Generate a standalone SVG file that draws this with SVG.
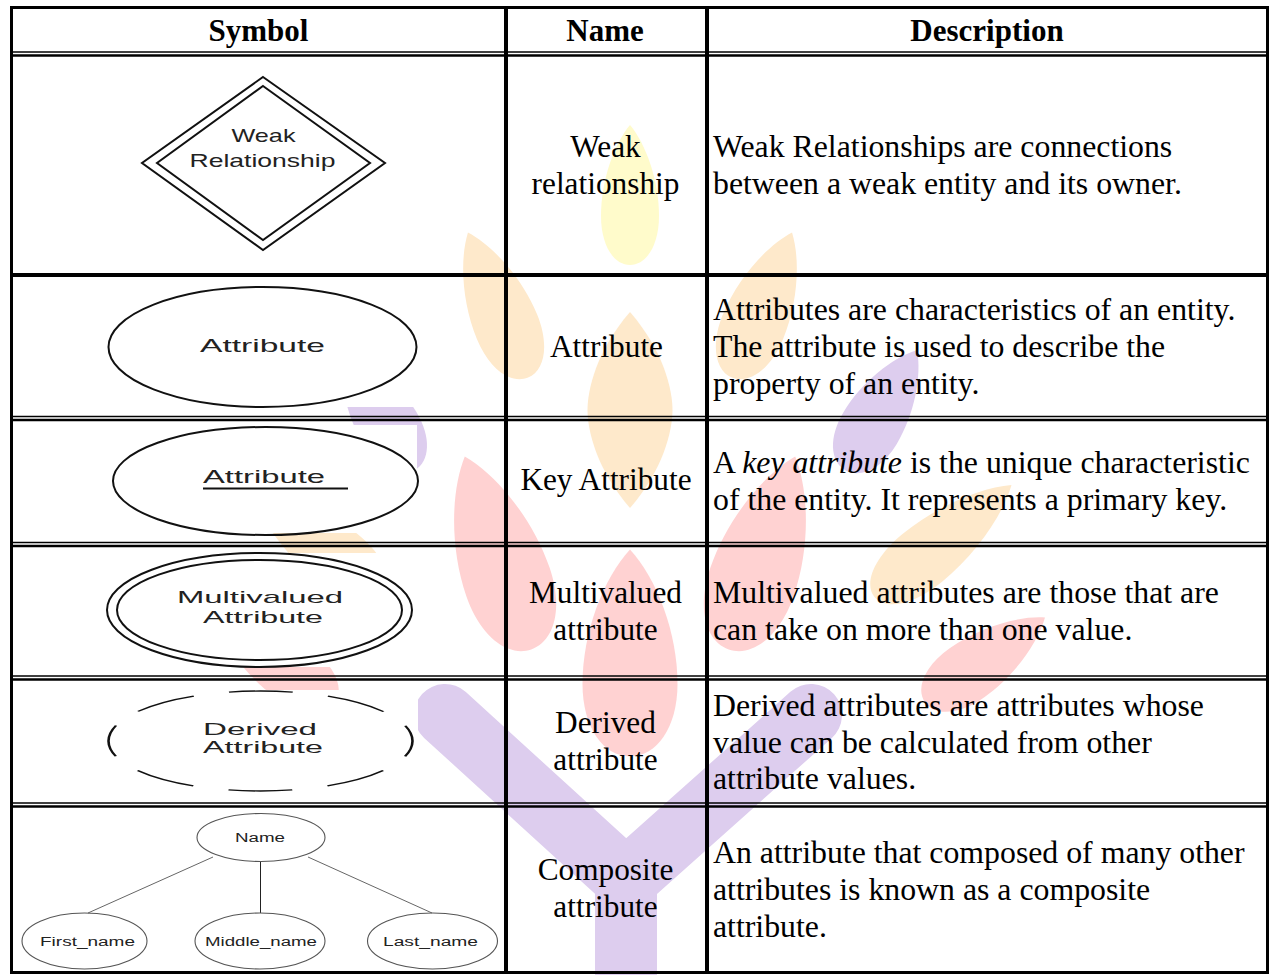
<svg xmlns="http://www.w3.org/2000/svg" width="1270" height="975" viewBox="0 0 1270 975">
  <style>
    .grid { stroke: #000; fill: none; }
    .head { font-family: "Liberation Serif", "Times New Roman", serif; font-weight: bold; font-size: 31px; fill: #000; text-anchor: middle; }
    .name { font-family: "Liberation Serif", "Times New Roman", serif; font-size: 31.3px; fill: #000; text-anchor: middle; }
    .desc { font-family: "Liberation Serif", "Times New Roman", serif; font-size: 31.8px; fill: #000; }
    .sym { font-family: "Liberation Sans", Arial, sans-serif; fill: #222; text-anchor: middle; }
    .shape { fill: none; stroke: #111; stroke-width: 2; }
    .thin { fill: none; stroke: #555; stroke-width: 1.1; }
    .link { stroke: #666; stroke-width: 1; fill: none; }
    .orange { fill: #FEE9CB; }
    .yellow { fill: #FFFBCB; }
    .red { fill: #FFD2D2; }
    .purple { fill: #DDCDEE; }
    .pane { fill: #fff; }
  </style>
  <defs>
    <path id="leaf" d="M0,-100 C28,-72 50,-20 50,30 C50,72 28,100 0,100 C-28,100 -50,72 -50,30 C-50,-20 -28,-72 0,-100 Z"/>
    <path id="almond" d="M0,-100 C40,-60 50,-20 50,0 C50,20 40,60 0,100 C-40,60 -50,20 -50,0 C-50,-20 -40,-60 0,-100 Z"/>
  </defs>

  <rect width="1270" height="975" fill="#fff"/>

  <!-- background tree emblem -->
  <g id="emblem">
    <use href="#leaf" class="yellow" transform="translate(630,195) scale(0.58,0.7)"/>
    <use href="#almond" class="orange" transform="translate(630,410) scale(0.85,0.98)"/>
    <use href="#leaf" class="red" transform="translate(630,653) scale(0.95,1.035)"/>
    <use href="#leaf" class="orange" transform="translate(498,305) rotate(-22.5) scale(0.65,0.785)"/>
    <use href="#leaf" class="orange" transform="translate(762,305) rotate(22.5) scale(0.65,0.785)"/>
    <use href="#leaf" class="red" transform="translate(498,553) rotate(-19) scale(0.88,1.02)"/>
    <use href="#leaf" class="red" transform="translate(762,553) rotate(19) scale(0.88,1.02)"/>
    <use href="#leaf" class="purple" transform="translate(881,410) rotate(31) scale(0.62,0.7)"/>
    <use href="#leaf" class="purple" transform="translate(379,410) rotate(-31) scale(0.62,0.7)"/>
    <use href="#leaf" class="orange" transform="translate(943,541) rotate(50.7) scale(0.62,0.885)"/>
    <use href="#leaf" class="orange" transform="translate(317,541) rotate(-50.7) scale(0.62,0.885)"/>
    <use href="#leaf" class="red" transform="translate(985,660) rotate(54.7) scale(0.6,0.735)"/>
    <use href="#leaf" class="red" transform="translate(275,660) rotate(-54.7) scale(0.6,0.735)"/>
    <path d="M445,715 L626,880 L811,715 M626,880 V990" fill="none" stroke="#DDCDEE" stroke-width="62" stroke-linecap="round" stroke-linejoin="round"/>
  </g>

  <!-- opaque backgrounds of the symbol pictures -->
  <g id="symbol-panes">
    <rect class="pane" x="100" y="280" width="330" height="127"/>
    <rect class="pane" x="105" y="425" width="312" height="108"/>
    <rect class="pane" x="100" y="553" width="320" height="114"/>
    <rect class="pane" x="100" y="690" width="318" height="107"/>
  </g>

  <!-- table rules -->
  <g id="table-grid" class="grid">
    <rect x="11.5" y="7.5" width="1256" height="965" stroke-width="3"/>
    <line x1="506" y1="6" x2="506" y2="974" stroke-width="4"/>
    <line x1="707" y1="6" x2="707" y2="974" stroke-width="4"/>
    <line x1="10" y1="52" x2="1269" y2="52" stroke-width="1.5"/>
    <line x1="10" y1="55.5" x2="1269" y2="55.5" stroke-width="2.5"/>
    <line x1="10" y1="275" x2="1269" y2="275" stroke-width="4"/>
    <line x1="10" y1="416.5" x2="1269" y2="416.5" stroke-width="1.5"/>
    <line x1="10" y1="420" x2="1269" y2="420" stroke-width="2.5"/>
    <line x1="10" y1="542.5" x2="1269" y2="542.5" stroke-width="1.5"/>
    <line x1="10" y1="546" x2="1269" y2="546" stroke-width="2.5"/>
    <line x1="10" y1="676" x2="1269" y2="676" stroke-width="1.5"/>
    <line x1="10" y1="679.5" x2="1269" y2="679.5" stroke-width="2.5"/>
    <line x1="10" y1="803" x2="1269" y2="803" stroke-width="1.5"/>
    <line x1="10" y1="806.5" x2="1269" y2="806.5" stroke-width="2.5"/>
  </g>

  <!-- header row -->
  <g id="header">
    <text class="head" x="258.5" y="41">Symbol</text>
    <text class="head" x="605" y="41">Name</text>
    <text class="head" x="987" y="41">Description</text>
  </g>

  <!-- row 1: weak relationship -->
  <g id="weak-relationship">
    <polygon class="shape" points="263,77 385,163 263,250 142,163"/>
    <polygon class="shape" points="263,86 370,163 263,240 157,163"/>
    <text class="sym" x="263.5" y="142" font-size="19" textLength="64" lengthAdjust="spacingAndGlyphs">Weak</text>
    <text class="sym" x="262.5" y="167" font-size="19" textLength="146" lengthAdjust="spacingAndGlyphs">Relationship</text>
    <text class="name" x="605.5" y="157">Weak</text>
    <text class="name" x="605.5" y="194">relationship</text>
    <text class="desc" x="713" y="157">Weak Relationships are connections</text>
    <text class="desc" x="713" y="194">between a weak entity and its owner.</text>
  </g>

  <!-- row 2: attribute -->
  <g id="attribute">
    <ellipse class="shape" cx="262.5" cy="347" rx="154" ry="60"/>
    <text class="sym" x="262.5" y="352" font-size="19" textLength="125" lengthAdjust="spacingAndGlyphs">Attribute</text>
    <text class="name" x="606.5" y="357">Attribute</text>
    <text class="desc" x="713" y="320">Attributes are characteristics of an entity.</text>
    <text class="desc" x="713" y="357">The attribute is used to describe the</text>
    <text class="desc" x="713" y="394">property of an entity.</text>
  </g>

  <!-- row 3: key attribute -->
  <g id="key-attribute">
    <ellipse class="shape" cx="265.5" cy="481" rx="152.5" ry="54"/>
    <text class="sym" x="264" y="483" font-size="19" textLength="122" lengthAdjust="spacingAndGlyphs">Attribute</text>
    <line x1="203" y1="488.5" x2="348" y2="488.5" stroke="#111" stroke-width="1.8"/>
    <text class="name" x="606" y="490">Key Attribute</text>
    <text class="desc" x="713" y="473">A <tspan font-style="italic">key attribute</tspan> is the unique characteristic</text>
    <text class="desc" x="713" y="510">of the entity. It represents a primary key.</text>
  </g>

  <!-- row 4: multivalued attribute -->
  <g id="multivalued-attribute">
    <ellipse class="shape" cx="259.5" cy="610" rx="152.5" ry="57"/>
    <ellipse class="shape" cx="259.5" cy="610" rx="142.5" ry="50"/>
    <text class="sym" x="260" y="603" font-size="17" textLength="166" lengthAdjust="spacingAndGlyphs">Multivalued</text>
    <text class="sym" x="263" y="623" font-size="17" textLength="120" lengthAdjust="spacingAndGlyphs">Attribute</text>
    <text class="name" x="605.5" y="603">Multivalued</text>
    <text class="name" x="605.5" y="640">attribute</text>
    <text class="desc" x="713" y="603">Multivalued attributes are those that are</text>
    <text class="desc" x="713" y="640">can take on more than one value.</text>
  </g>

  <!-- row 5: derived attribute (dashed outline, drawn unstretched then widened) -->
  <g id="derived-attribute">
    <ellipse cx="0" cy="0" rx="76" ry="50" fill="none" stroke="#111" stroke-width="1.3" stroke-dasharray="32 18" stroke-dashoffset="16" transform="translate(260.5,741) scale(2,1)"/>
    <text class="sym" x="260" y="735" font-size="17" textLength="114" lengthAdjust="spacingAndGlyphs">Derived</text>
    <text class="sym" x="263" y="753" font-size="17" textLength="120" lengthAdjust="spacingAndGlyphs">Attribute</text>
    <text class="name" x="605.5" y="733">Derived</text>
    <text class="name" x="605.5" y="770">attribute</text>
    <text class="desc" x="713" y="716">Derived attributes are attributes whose</text>
    <text class="desc" x="713" y="753">value can be calculated from other</text>
    <text class="desc" x="713" y="789">attribute values.</text>
  </g>

  <!-- row 6: composite attribute -->
  <g id="composite-attribute">
    <g id="connectors">
      <line class="link" x1="213" y1="857" x2="88" y2="913"/>
      <line x1="260.5" y1="862" x2="260.5" y2="913" stroke="#222" stroke-width="1"/>
      <line class="link" x1="308" y1="857" x2="432" y2="913"/>
    </g>
    <g id="node-name">
      <ellipse class="thin" cx="261" cy="837.5" rx="64" ry="24"/>
      <text class="sym" x="260" y="842" font-size="12.5" textLength="50" lengthAdjust="spacingAndGlyphs">Name</text>
    </g>
    <g id="node-first-name">
      <ellipse class="thin" cx="84.5" cy="941" rx="62.5" ry="28"/>
      <text class="sym" x="87.5" y="946" font-size="12.5" textLength="95" lengthAdjust="spacingAndGlyphs">First_name</text>
    </g>
    <g id="node-middle-name">
      <ellipse class="thin" cx="260" cy="941" rx="65" ry="28"/>
      <text class="sym" x="261" y="946" font-size="12.5" textLength="112" lengthAdjust="spacingAndGlyphs">Middle_name</text>
    </g>
    <g id="node-last-name">
      <ellipse class="thin" cx="432.5" cy="941" rx="65" ry="28"/>
      <text class="sym" x="430.5" y="946" font-size="12.5" textLength="95" lengthAdjust="spacingAndGlyphs">Last_name</text>
    </g>
    <text class="name" x="605.5" y="880">Composite</text>
    <text class="name" x="605.5" y="917">attribute</text>
    <text class="desc" x="713" y="863">An attribute that composed of many other</text>
    <text class="desc" x="713" y="900">attributes is known as a composite</text>
    <text class="desc" x="713" y="937">attribute.</text>
  </g>
</svg>
